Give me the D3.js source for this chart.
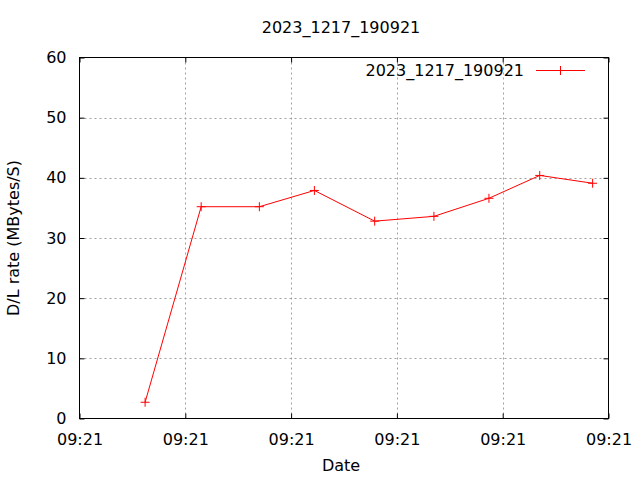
<!DOCTYPE html>
<html><head><meta charset="utf-8">
<script src="https://cdn.jsdelivr.net/npm/d3@7"></script>
<style>body{margin:0;background:#fff}svg{display:block}text{font-family:"DejaVu Sans",sans-serif;font-size:16px;fill:#000}</style>
</head><body><svg id="c" width="640" height="480"></svg>
<script>
const title = "2023_1217_190921";
const seriesName = "2023_1217_190921";
const timeLabels = ["09:21:06.2","09:21:11.5","09:21:17.0","09:21:22.2","09:21:27.9","09:21:33.5","09:21:38.7","09:21:43.5","09:21:48.5"];
const rates = [2.7, 35.2, 35.2, 37.9, 32.8, 33.6, 36.6, 40.4, 39.1];
const xDomain = ["09:21:00.0","09:21:50.0"];
const yTicks = [0,10,20,30,40,50,60];

const parse = d3.timeParse("%H:%M:%S.%L");
const times = timeLabels.map(s => parse(s + "00"));
const data = times.map((t,i)=>({t, v: rates[i]}));

const svg = d3.select("#c");
const L=79.5, R=608.5, T=57.5, B=418.5;
const x = d3.scaleTime().domain(xDomain.map(s=>parse(s+"00"))).range([L,R]);
const y = d3.scaleLinear().domain([0,60]).range([B,T]);
const xTicks = d3.range(0,6).map(i=>new Date(x.domain()[0].getTime()+i*10000));
const fmt = d3.timeFormat("%H:%M");

// grid
const g = svg.append("g");
g.selectAll(".gy").data(yTicks.slice(1,-1)).join("line")
 .attr("x1",L).attr("x2",R).attr("y1",d=>Math.round(y(d))+0.5).attr("y2",d=>Math.round(y(d))+0.5)
 .attr("stroke","#a0a0a0").attr("stroke-dasharray","2,3");
g.selectAll(".gx").data(xTicks.slice(1,-1)).join("line")
 .attr("y1",T).attr("y2",B).attr("x1",d=>Math.round(x(d))+0.5).attr("x2",d=>Math.round(x(d))+0.5)
 .attr("stroke","#a0a0a0").attr("stroke-dasharray","2,3");

// axes via d3
const ax = svg.append("g").attr("transform",`translate(0,${B})`)
 .call(d3.axisBottom(x).tickValues(xTicks).tickFormat(fmt).tickSizeInner(-5).tickSizeOuter(0).tickPadding(15));
ax.select(".domain").remove();
ax.selectAll("text").style("font-family","DejaVu Sans").style("font-size","16px");
const axT = svg.append("g").attr("transform",`translate(0,${T})`)
 .call(d3.axisTop(x).tickValues(xTicks).tickFormat("").tickSizeInner(-5).tickSizeOuter(0));
axT.select(".domain").remove();
const ay = svg.append("g").attr("transform",`translate(${L},0)`)
 .call(d3.axisLeft(y).tickValues(yTicks).tickSizeInner(-5).tickSizeOuter(0).tickPadding(13));
ay.select(".domain").remove();
ay.selectAll("text").style("font-family","DejaVu Sans").style("font-size","16px");
const ayR = svg.append("g").attr("transform",`translate(${R},0)`)
 .call(d3.axisRight(y).tickValues(yTicks).tickFormat("").tickSizeInner(-5).tickSizeOuter(0));
ayR.select(".domain").remove();
svg.selectAll(".tick line").attr("stroke","#000");

svg.append("rect").attr("x",L).attr("y",T).attr("width",R-L).attr("height",B-T)
 .attr("fill","none").attr("stroke","#000");

// line
svg.append("path").datum(data).attr("fill","none").attr("stroke","#f00").attr("stroke-width",1)
 .attr("d", d3.line().x(d=>x(d.t)).y(d=>y(d.v)));
const plus = (sel,cx,cy)=>{ sel.append("path").attr("d",`M${cx-4.5},${cy}H${cx+4.5}M${cx},${cy-4.5}V${cy+4.5}`).attr("stroke","#f00").attr("fill","none"); };
const mg = svg.append("g");
data.forEach(d=>plus(mg, x(d.t), y(d.v)));

// legend
svg.append("text").attr("x",524).attr("y",76).attr("text-anchor","end").text(seriesName);
svg.append("line").attr("x1",536).attr("x2",585).attr("y1",70.5).attr("y2",70.5).attr("stroke","#f00");
plus(svg,560.5,70.5);

// titles
svg.append("text").attr("x",341).attr("y",33).attr("text-anchor","middle").text(title);
svg.append("text").attr("x",341).attr("y",471).attr("text-anchor","middle").text("Date");
svg.append("text").attr("transform","translate(19,238) rotate(-90)").attr("text-anchor","middle").text("D/L rate (MBytes/S)");
</script></body></html>
